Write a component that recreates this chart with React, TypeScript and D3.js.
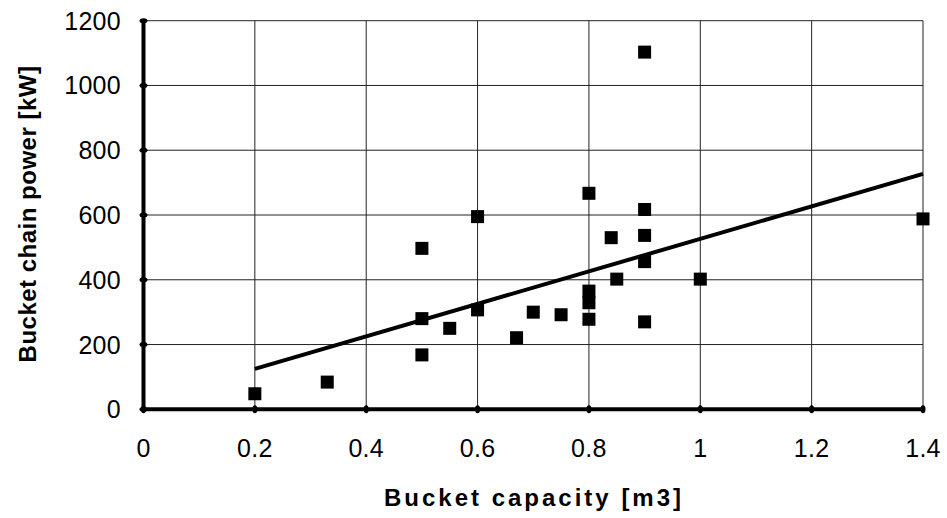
import React from "react";
import * as d3 from "d3";

const capacity = [0.2, 0.33, 0.5, 0.5, 0.5, 0.55, 0.6, 0.6, 0.67, 0.7, 0.75, 0.8, 0.8, 0.8, 0.8, 0.84, 0.85, 0.9, 0.9, 0.9, 0.9, 0.9, 1.0, 1.4];
const power = [48, 84, 168, 280, 497, 250, 307, 595, 221, 300, 292, 278, 329, 365, 667, 530, 402, 270, 456, 537, 617, 1103, 402, 588];
const trendX = [0.2, 1.4];
const trendY = [125, 727];
const xTicks = [0, 0.2, 0.4, 0.6, 0.8, 1, 1.2, 1.4];
const yTicks = [0, 200, 400, 600, 800, 1000, 1200];

const W = 947, H = 518;
const L = 143.5, R = 923, T = 20.7, B = 409.3;

export default function App() {
  const x = d3.scaleLinear().domain([0, 1.4]).range([L, R]);
  const y = d3.scaleLinear().domain([0, 1200]).range([B, T]);
  const line = d3.line<number>().x((_, i) => x(trendX[i])).y((d) => y(d));
  const font = "'Liberation Sans', Arial, sans-serif";
  const sq = 13;
  return (
    <svg width={W} height={H} style={{ position: "absolute", left: 0, top: 0 }}>
      <rect width={W} height={H} fill="#fff" />
      {yTicks.slice(1).map((t) => (
        <line key={"gy" + t} x1={L} x2={R} y1={y(t)} y2={y(t)} stroke="#222" strokeWidth={1} />
      ))}
      {xTicks.slice(1).map((t) => (
        <line key={"gx" + t} x1={x(t)} x2={x(t)} y1={T} y2={B} stroke="#222" strokeWidth={1} />
      ))}
      <path d={line(trendY) || ""} fill="none" stroke="#000" strokeWidth={4} />
      {capacity.map((c, i) => (
        <rect key={"p" + i} x={x(c) - sq / 2} y={y(power[i]) - sq / 2} width={sq} height={sq} fill="#000" />
      ))}
      <line x1={L} x2={L} y1={T} y2={B} stroke="#000" strokeWidth={4} />
      <line x1={L} x2={R} y1={B} y2={B} stroke="#000" strokeWidth={4} />
      {yTicks.map((t) => (
        <g key={"ty" + t}>
          <ellipse cx={L} cy={y(t)} rx={4} ry={2.5} fill="#000" />
          <text x={121} y={y(t)} dy="0.36em" textAnchor="end" fontFamily={font} fontSize={25} letterSpacing={0.3} fill="#000">
            {t}
          </text>
        </g>
      ))}
      {xTicks.map((t) => (
        <g key={"tx" + t}>
          <ellipse cx={x(t)} cy={B} rx={2.5} ry={4} fill="#000" />
          <text x={x(t)} y={457} textAnchor="middle" fontFamily={font} fontSize={25} letterSpacing={0.3} fill="#000">
            {String(t)}
          </text>
        </g>
      ))}
      <text x={534} y={506} textAnchor="middle" fontFamily={font} fontSize={24} fontWeight="bold" letterSpacing={3} fill="#000">
        Bucket capacity [m3]
      </text>
      <text transform={`translate(36,${214}) rotate(-90)`} textAnchor="middle" fontFamily={font} fontSize={24} fontWeight="bold" letterSpacing={0.5} fill="#000">
        Bucket chain power [kW]
      </text>
    </svg>
  );
}
